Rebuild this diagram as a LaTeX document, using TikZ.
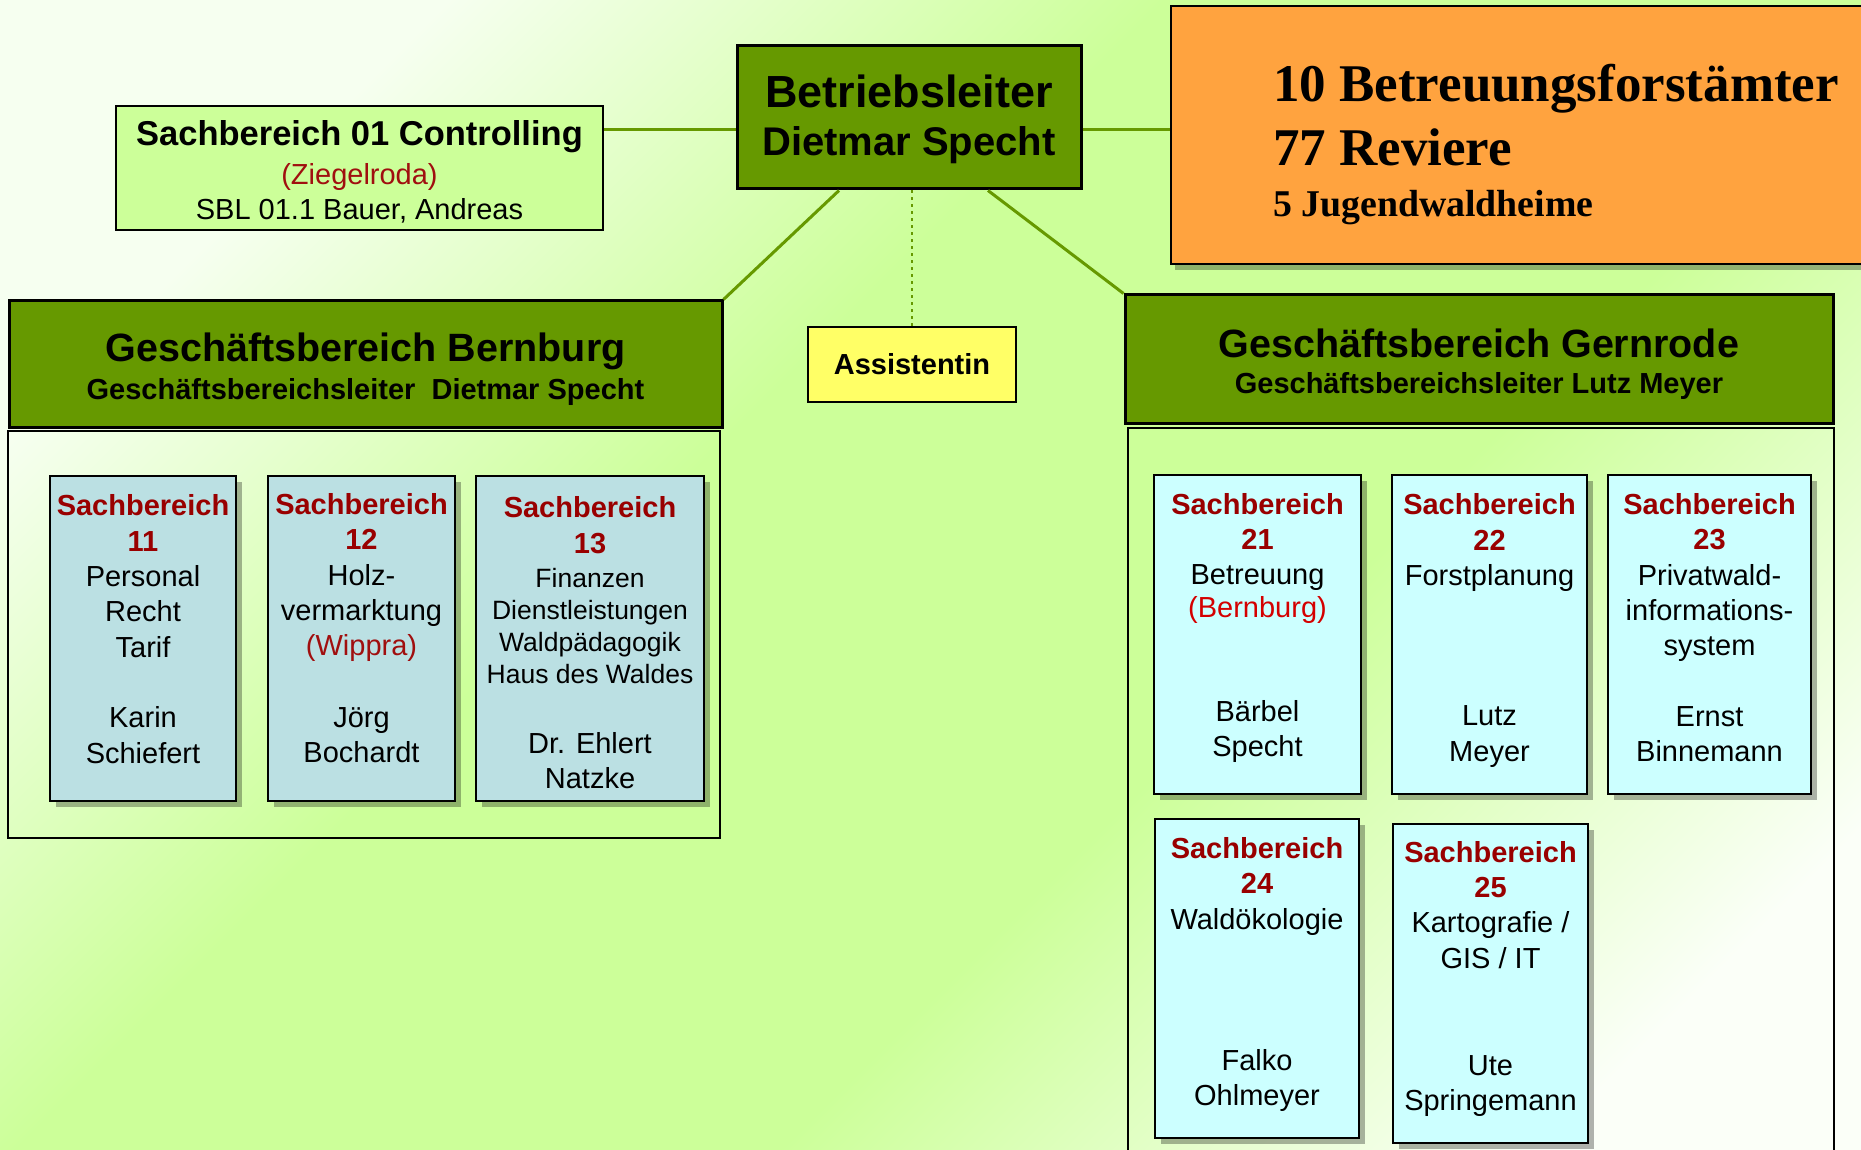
\documentclass[tikz,border=0pt]{standalone}
\usepackage{fontspec}
\setmainfont{Liberation Sans}
\newfontfamily\timesbf{Liberation Serif}
\usetikzlibrary{positioning,shadows}

\definecolor{leaf}{HTML}{669900}
\definecolor{meadow}{HTML}{CCFF99}
\definecolor{palegreen}{HTML}{F6FFF0}
\definecolor{paleend}{HTML}{FBFFF8}
\definecolor{greyblue}{HTML}{BBE0E3}
\definecolor{icecyan}{HTML}{CCFFFF}
\definecolor{lemon}{HTML}{FFFF66}
\definecolor{tangerine}{HTML}{FFA33F}
\definecolor{sbred}{HTML}{990000}
\definecolor{placered}{HTML}{A00F0F}
\definecolor{brightred}{HTML}{D40000}

\pgfdeclarehorizontalshading{grassbg}{100bp}{color(0bp)=(palegreen); color(25bp)=(palegreen); color(42bp)=(meadow); color(60bp)=(meadow); color(78bp)=(paleend); color(100bp)=(paleend)}

\newcommand{\fsz}[2]{\fontsize{#1}{#2}\selectfont}
\newcommand{\sbh}[1]{\textcolor{sbred}{\bfseries #1}}
\newcommand{\dnrule}[1]{\rule[-#1pt]{0pt}{#1pt}}
\newcommand{\uprule}[1]{\rule{0pt}{#1pt}}

\begin{document}
\begin{tikzpicture}[x=1pt, y=-1pt,
    link/.style={leaf, line width=3pt},
    headbox/.style={draw, line width=3pt, fill=leaf, inner sep=0pt, align=center},
    sbox/.style={draw, line width=2pt, inner sep=0pt, align=center, font={\fsz{29}{35.3}},
      drop shadow={shadow xshift=6pt, shadow yshift=-6pt, fill=black, opacity=.3}},
    oldbox/.style={sbox, fill=greyblue, minimum height=325pt},
    newbox/.style={sbox, fill=icecyan, minimum height=319pt},
    frame/.style={draw, line width=2pt, inner sep=0pt}
]
\useasboundingbox (0,0) rectangle (1861,1150);
\shade[shading=grassbg, shading angle=-45] (0,0) rectangle (1861,1150);

% top row
\node[headbox, minimum width=344pt, minimum height=143pt, font={\bfseries\fsz{40}{48}}] (bl) at (909,117.5) {{\fsz{45}{48}\uprule{37}Betriebsleiter}\\Dietmar Specht};
\node[draw, line width=2.5pt, fill=meadow, inner sep=0pt, align=center, minimum width=487pt, minimum height=124pt, font={\fsz{29}{35}}] (sb01) at (359.5,168)
  {{\bfseries\fsz{34.5}{35}\uprule{32}Sachbereich 01 Controlling}\\[4pt]\textcolor{placered}{(Ziegelroda)}\\SBL 01.1 Bauer, Andreas};
\node[draw, line width=2.5pt, fill=tangerine, inner sep=0pt, align=left, minimum width=770pt, minimum height=258pt, font={\timesbf\bfseries\fsz{53}{60}},
  drop shadow={shadow xshift=4pt, shadow yshift=-6pt, fill=black, opacity=.3}] (amt) at (1556,135)
  {\uprule{56}10 Betreuungsforstämter\\[4pt]77 Reviere\\[-9pt]{\fsz{37.8}{40}5 Jugendwaldheime}};

% Geschaeftsbereiche
\node[headbox, minimum width=713pt, minimum height=126pt, font={\bfseries\fsz{29}{38}}] (gb) at (365.5,364)
  {{\fsz{39.5}{38}\uprule{39}Geschäftsbereich Bernburg}\\Geschäftsbereichsleiter~ Dietmar Specht};
\node[headbox, minimum width=708pt, minimum height=128pt, font={\bfseries\fsz{29}{36}}] (gg) at (1479,359)
  {{\fsz{39.5}{36}\uprule{39}Geschäftsbereich Gernrode}\\Geschäftsbereichsleiter Lutz Meyer};
\node[draw, line width=2pt, fill=lemon, inner sep=0pt, minimum width=208pt, minimum height=75pt, font={\bfseries\fsz{29}{35}}] (as) at (912,364.5) {Assistentin};

\node[frame, minimum width=712pt, minimum height=407pt] (cb) at (364,634.5) {};
\node[frame, minimum width=706pt, minimum height=740pt] (cg) at (1481,798) {};

% Bernburg
\node[oldbox, minimum width=186pt] (s11) at (143,638)
  {\sbh{Sachbereich}\\\sbh{11}\\Personal\\Recht\\Tarif\\[35.5pt]Karin\\Schiefert\dnrule{18}};
\node[oldbox, minimum width=187pt, right=30pt of s11] (s12)
  {\sbh{Sachbereich}\\\sbh{12}\\Holz-\\vermarktung\\\textcolor{placered}{(Wippra)}\\[36pt]Jörg\\Bochardt\dnrule{20}};
\node[oldbox, minimum width=228pt, right=19pt of s12] (s13)
  {\sbh{\uprule{30}Sachbereich}\\[0.5pt]\sbh{13}\\[-1pt]{\fsz{26.5}{32}Finanzen}\\[-3.3pt]{\fsz{26.5}{32}Dienstleistungen}\\[-3.3pt]{\fsz{26.5}{32}Waldpädagogik}\\[-3.3pt]{\fsz{26.5}{32}Haus des Waldes}\\[35pt]Dr. Ehlert\\[-1pt]Natzke};

% Gernrode
\node[newbox, minimum width=207pt] (s21) at (1257.5,634.5)
  {\sbh{Sachbereich}\\\sbh{21}\\Betreuung\\[-3pt]\textcolor{brightred}{(Bernburg)}\\[69pt]Bärbel\\Specht\dnrule{19}};
\node[newbox, minimum width=195pt, right=29pt of s21] (s22)
  {\sbh{Sachbereich}\\\sbh{22}\\Forstplanung\\[105pt]Lutz\\Meyer\dnrule{14}};
\node[newbox, minimum width=203pt, right=19pt of s22] (s23)
  {\sbh{Sachbereich}\\\sbh{23}\\Privatwald-\\informations-\\system\\[35pt]Ernst\\Binnemann\dnrule{14}};
\node[newbox, minimum width=204pt] (s24) at (1257,978.5)
  {\sbh{Sachbereich}\\\sbh{24}\\Waldökologie\\[106pt]Falko\\Ohlmeyer\dnrule{14}};
\node[newbox, minimum width=195pt, right=32pt of s24, yshift=-4.5pt] (s25)
  {\sbh{Sachbereich}\\\sbh{25}\\Kartografie /\\GIS / IT\\[72pt]Ute\\Springemann\dnrule{14}};

% links
\draw[link] (bl.184.5) -- (sb01.east |- bl.184.5);
\draw[link] (bl.356.5) -- (amt.west |- bl.356.5);
\draw[link] ([xshift=-70pt]bl.south) -- (gb.north east);
\draw[link] ([xshift=79pt]bl.south) -- (gg.north west);
\draw[leaf, line width=2.5pt, dash pattern=on 3pt off 4pt] (bl.south -| as.north) -- (as.north);
\end{tikzpicture}
\end{document}
